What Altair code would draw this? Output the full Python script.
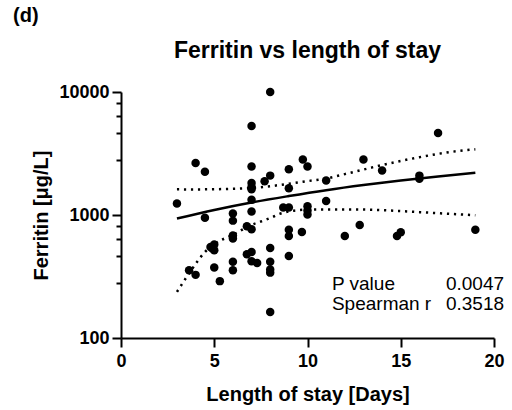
import altair as alt
import pandas as pd

# ---- data ----
days = [8, 7, 17, 4, 4.5, 7, 9.75, 10, 9, 8, 7.7, 7, 7, 7, 9, 13, 14, 11, 16, 16,
        3, 7, 11, 7, 8.7, 9, 10, 10, 10, 4.5, 6, 6, 6.75, 7, 9, 9, 9.7, 12, 12.8, 14.8,
        15, 19, 6, 6, 4.8, 5, 5, 4.9, 6.75, 7, 8, 9, 6, 6, 7, 7.3, 8, 8, 8, 5,
        3.65, 4, 5.3, 8]
ferritin = [10000, 5300, 4650, 2650, 2250, 2480, 2830, 2480, 2350, 2090, 1880, 1820, 1690, 1620, 1650, 2830, 2300, 1910, 2090, 1970,
            1240, 1330, 1300, 1070, 1150, 1150, 1180, 1090, 1010, 950, 1030, 900, 810, 765, 760, 676, 728, 676, 830, 675,
            725, 760, 680, 645, 550, 575, 517, 535, 480, 500, 540, 465, 416, 356, 421, 408, 416, 361, 340, 374,
            356, 326, 290, 163]

fit_x = [3, 5, 7, 9, 11, 13, 15, 17, 19]
fit_y = [935, 1100, 1265, 1425, 1590, 1750, 1905, 2060, 2210]

upper_x = [3, 4, 5, 6, 7, 8, 9, 10, 11, 12, 13, 14, 15, 16, 17, 18, 19]
upper_y = [1616, 1615, 1620, 1635, 1660, 1715, 1795, 1885, 1980, 2150, 2340, 2550, 2750, 2950, 3140, 3300, 3420]

lower_x = [3, 3.5, 4, 4.5, 5, 6, 7, 7.5, 8, 8.5, 9, 9.5, 10, 11, 12, 13, 14, 15, 16, 17, 18, 19]
lower_y = [237, 310, 400, 500, 580, 690, 830, 885, 945, 1020, 1070, 1095, 1105, 1110, 1110, 1108, 1095, 1075, 1055, 1035, 1015, 995]

x_ticks = [0, 5, 10, 15, 20]
y_major = [100, 1000, 10000]
y_minor = [280, 460, 640, 820, 2800, 4600, 6400, 8200]

stat_names = ["P value", "Spearman r"]
stat_values = ["0.0047", "0.3518"]

FONT = "Liberation Sans"

pts = pd.DataFrame({"days": days, "ferritin": ferritin})
fit = pd.DataFrame({"days": fit_x, "ferritin": fit_y})
upper = pd.DataFrame({"days": upper_x, "ferritin": upper_y})
lower = pd.DataFrame({"days": lower_x, "ferritin": lower_y})

x_scale = alt.Scale(domain=[0, 20], nice=False, zero=False)
y_scale = alt.Scale(type="log", domain=[100, 10000], nice=False)

major_test = "datum.value == 100 || datum.value == 1000 || datum.value == 10000"

x_axis = alt.Axis(values=x_ticks, title="Length of stay [Days]", tickSize=9,
                  labelPadding=5, titlePadding=14, labelFlush=False, labelOverlap=False)
y_axis = alt.Axis(values=y_major + y_minor, title="Ferritin [μg/L]", format="d",
                  labelExpr=f"({major_test}) ? format(datum.value, 'd') : ''",
                  tickSize={"condition": {"test": major_test, "value": 9}, "value": 5},
                  labelPadding=3, titlePadding=7, labelFlush=False, labelOverlap=False)

X = alt.X("days:Q", scale=x_scale, axis=x_axis)
Y = alt.Y("ferritin:Q", scale=y_scale, axis=y_axis)
Xn = alt.X("days:Q", scale=x_scale)
Yn = alt.Y("ferritin:Q", scale=y_scale)

points = alt.Chart(pts).mark_circle(size=72, color="black", opacity=1).encode(x=X, y=Y)
fit_line = alt.Chart(fit).mark_line(color="black", strokeWidth=2.5, interpolate="monotone").encode(x=Xn, y=Yn)
up_line = alt.Chart(upper).mark_line(color="black", strokeWidth=2.5, strokeDash=[2.2, 4.8],
                                     interpolate="monotone").encode(x=Xn, y=Yn)
lo_line = alt.Chart(lower).mark_line(color="black", strokeWidth=2.5, strokeDash=[2.2, 4.8],
                                     interpolate="monotone").encode(x=Xn, y=Yn)

stats_df = pd.DataFrame({"name": stat_names, "val": stat_values,
                         "xl": [11.31, 11.31], "xr": [20.54, 20.54], "y": [246, 168]})
stats_left = alt.Chart(stats_df).mark_text(font=FONT, fontSize=19, align="left",
                                           baseline="alphabetic", color="black").encode(
    x=alt.X("xl:Q", scale=x_scale), y=alt.Y("y:Q", scale=y_scale), text="name:N")
stats_right = alt.Chart(stats_df).mark_text(font=FONT, fontSize=19, align="right",
                                            baseline="alphabetic", color="black").encode(
    x=alt.X("xr:Q", scale=x_scale), y=alt.Y("y:Q", scale=y_scale), text="val:N")

one = pd.DataFrame({"k": [0]})
title_txt = alt.Chart(one).mark_text(font=FONT, fontSize=23, fontWeight="bold", align="center",
                                     baseline="alphabetic", color="black").encode(
    x=alt.value(186.5), y=alt.value(-34.3), text=alt.value("Ferritin vs length of stay"))
panel_txt = alt.Chart(one).mark_text(font=FONT, fontSize=20, fontWeight="bold", align="left",
                                     baseline="alphabetic", color="black").encode(
    x=alt.value(-108), y=alt.value(-70), text=alt.value("(d)"))

chart = alt.layer(up_line, lo_line, fit_line, points, stats_left, stats_right, title_txt, panel_txt).properties(
    width=373, height=246,
    autosize=alt.AutoSizeParams(type="none"),
    padding={"left": 121, "top": 92, "right": 18, "bottom": 72},
).configure_view(stroke=None).configure_axis(
    grid=False, domainColor="black", domainWidth=2, tickColor="black", tickWidth=2,
    labelFont=FONT, labelFontSize=18, labelFontWeight="bold", labelColor="black",
    titleFont=FONT, titleFontSize=20, titleFontWeight="bold", titleColor="black",
)

chart.save("out.html", embed_options={"renderer": "svg", "actions": False})
